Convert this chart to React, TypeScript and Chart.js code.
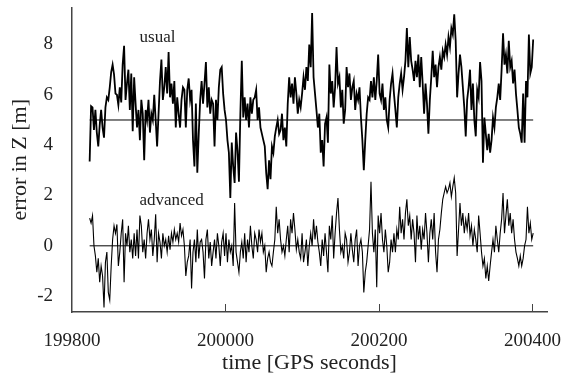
import React, { useEffect, useRef } from "react";
import { Chart, registerables } from "chart.js";

Chart.register(...registerables);

// first and last epoch of the plotted series (GPS seconds); samples evenly spaced between them
const T_FIRST = 199823;
const T_LAST = 200401;

const usual = [
  3.35, 5.55, 5.5, 4.6, 5.4, 4.5, 3.95, 4.8, 5.4, 4.7,
  4.3, 5.5, 5.9, 5.8, 6.3, 6.9, 7.2, 6.8, 6.05, 6.0,
  5.6, 6.3, 5.7, 7.2, 7.95, 5.8, 6.45, 7.0, 5.4, 6.85,
  4.55, 6.7, 5.65, 4.7, 5.4, 4.2, 5.8, 5.25, 3.4, 5.4,
  5.0, 5.8, 4.5, 5.25, 5.0, 6.0, 5.0, 3.95, 5.25, 6.55,
  7.4, 5.8, 6.3, 7.1, 6.05, 7.7, 5.9, 6.45, 5.65, 6.55,
  4.7, 5.9, 5.25, 4.7, 5.8, 6.3, 6.2, 4.7, 6.2, 6.65,
  5.8, 6.2, 4.2, 3.15, 5.65, 2.9, 4.45, 5.8, 6.55, 5.65,
  6.45, 7.3, 5.5, 6.3, 5.25, 5.8, 5.65, 3.95, 5.8, 5.0,
  6.3, 7.0, 7.1, 6.05, 5.4, 5.0, 4.2, 3.7, 1.9, 4.1,
  3.15, 2.5, 4.5, 3.8, 2.55, 5.25, 7.35, 5.1, 5.9, 5.0,
  5.65, 4.7, 5.9, 5.25, 5.8, 5.9, 6.2, 5.0, 5.5, 4.7,
  4.45, 4.2, 3.95, 2.9, 2.25, 3.4, 2.65, 3.95, 3.7, 4.35,
  4.7, 5.0, 4.45, 4.6, 5.25, 4.2, 4.7, 3.95, 5.65, 6.7,
  5.9, 6.45, 5.65, 6.7, 6.05, 5.25, 5.8, 5.5, 6.05, 6.7,
  6.2, 7.1, 6.55, 8.0, 7.1, 9.25, 6.7, 6.05, 5.4, 4.7,
  5.25, 3.7, 4.2, 3.15, 4.85, 5.1, 4.1, 7.2, 6.05, 6.55,
  5.5, 6.3, 7.9, 6.45, 6.7, 5.5, 6.2, 4.85, 5.4, 7.1,
  6.3, 6.85, 5.8, 6.3, 6.55, 5.4, 6.05, 5.8, 6.3, 5.1,
  4.2, 3.0, 4.2, 5.25, 5.9, 5.8, 6.55, 5.9, 6.7, 5.8,
  6.55, 7.6, 6.05, 5.8, 6.45, 5.4, 5.9, 5.0, 4.7, 5.8,
  6.45, 6.85, 6.05, 5.4, 4.7, 5.9, 6.45, 6.85, 6.2, 6.7,
  7.35, 8.65, 7.1, 8.3, 7.35, 7.0, 6.55, 7.35, 6.7, 7.6,
  6.3, 7.5, 6.45, 5.25, 6.45, 5.65, 4.45, 5.8, 6.7, 7.75,
  6.7, 7.2, 6.3, 7.1, 7.5, 7.0, 7.75, 7.5, 8.0, 7.6,
  8.3, 7.9, 8.65, 8.4, 9.2, 8.15, 5.9, 6.85, 7.6, 7.1,
  6.3, 5.5, 4.35, 5.8, 6.3, 7.0, 5.4, 6.45, 5.0, 4.35,
  6.2, 5.9, 7.3, 6.55, 3.3, 5.1, 4.45, 3.8, 4.45, 3.7,
  4.2, 5.1, 4.7, 5.5, 5.9, 6.45, 5.8, 7.0, 8.45, 7.2,
  7.6, 6.85, 8.15, 7.1, 7.35, 6.45, 7.0, 6.05, 5.4, 4.7,
  4.45, 4.1, 6.05, 4.1, 6.55, 5.9, 8.4, 6.85, 7.1, 8.2,
];

const advanced = [
  1.1, 0.9, 1.2, 0, -0.4, -1.05, -0.5, -1.45, -0.8, -1.2,
  -2.45, -0.65, -0.25, -1.85, -2.15, -0.8, 0.25, 0.8, 0.5, 0.85,
  -0.8, -0.25, 0.5, 1.05, -1.45, 0.5, 0, 0.8, -0.25, 0.25,
  -0.5, 0.5, -0.4, 0.65, -0.5, 1.2, 0.8, -0.25, 0.25, -0.5,
  0.5, 1.05, 0.25, 0.65, -0.4, 0.25, 1.25, -0.65, 0.5, 0.15,
  -0.5, 0.5, 0, 0.25, -0.25, 0.4, -0.15, 0.5, 0.15, 0.65,
  0.25, 0.5, 0.15, 0.9, 0.4, 0.65, 0, -1.2, -0.65, -0.4,
  0.25, -1.7, -0.25, 0.25, -0.65, 0.65, -0.5, 0.15, 0.25, -0.25,
  -1.3, 0.25, 0.65, -0.5, 0.15, -0.8, -0.25, 0.25, -0.5, 0.5,
  0, -0.8, 0.15, 0.5, -0.4, 0.5, -0.65, 0.25, -0.25, 0,
  -0.8, 1.7, -0.25, -0.65, -1.05, -0.25, 0.15, -0.5, 0.5, -0.65,
  0.25, -0.25, 0.8, 0, -0.5, 0.5, 0.25, -0.25, 0.65, 0.15,
  0.5, -0.25, 0, -1.05, -0.5, -0.25, -0.65, -0.8, -0.25, 0.25,
  1.55, 0.5, 1.05, 0.25, -0.25, 0, -0.4, 0.25, 0.8, -0.25,
  1.05, 0.5, 1.3, 0.65, -0.15, 0.25, -0.25, -0.5, 0.5, -0.65,
  -0.25, 0.25, -0.8, 0, 0.5, 0, 1.05, 0.25, 0.8, 0.15,
  -0.25, -0.8, 0.25, -0.4, 0.5, -0.25, -1.05, 0.8, 0.25, 1.2,
  -0.5, 0.5, 1.3, 1.9, 0.65, -0.25, 0, -0.5, 0.5, 0.25,
  -0.65, -0.25, 0.5, -0.15, -0.65, 0.25, 0.65, -0.8, 0, 0.25,
  -0.25, -1.85, -1.05, -0.65, 0, 0.65, 2.55, 0.5, -0.25, 0.65,
  -1.65, 1.2, 0.5, 1.3, 0.25, -0.25, 0.65, 0, -1.05, -0.65,
  0.25, -0.25, 0.5, -0.25, 0.65, 0.25, 1.55, 0.5, 1.05, 0.25,
  1.3, 1.85, 0.8, 1.2, 0.25, 1.05, 0.5, -0.65, 1.2, 0.25,
  0.8, -0.15, 0.65, 0.25, 1.3, 0.5, -0.65, 0.5, 1.05, 0.25,
  1.3, -0.25, -1.05, 0.25, 0.65, 1.3, 1.85, 2.1, 2.35, 2.1,
  2.25, 2.5, 1.95, 2.35, 2.7, 2.1, -0.4, 0.65, 1.7, 0.8,
  1.3, 0.5, 1.05, 0.65, 1.3, 0.4, 0.8, 0, 0.65, 0.25,
  -0.25, 1.2, 0.5, -0.25, -0.8, -0.5, -1.3, -0.8, -1.4, -0.8,
  -0.25, 0.25, -0.25, 0.8, 0.25, -0.25, 0.5, 1.05, 2.1, 0.5,
  1.2, 1.85, 0.8, 1.3, 0.5, 1.05, 0.25, -0.25, -0.5, -0.8,
  -0.4, -0.8, -0.5, 0, 0.25, 1.55, 0.5, 0.9, 0.25, 0.5,
];

const REF_USUAL = 5;
const REF_ADVANCED = 0;

const X_TICKS = [199800, 200000, 200200, 200400];
const Y_TICKS = [-2, 0, 2, 4, 6, 8];
const X_MIN = 199800;
const X_MAX = 200419;
const Y_MIN = -2.63;
const Y_MAX = 9.47;

const SERIES_LABELS = ["usual", "advanced"];
const LABEL_X = [199888, 199888];
const LABEL_Y = [8.27, 1.8];

const FONT = "'Liberation Serif', 'Times New Roman', serif";
const AXIS_COLOR = "#444";

function toPoints(values: number[]) {
  const n = values.length;
  return values.map((v, i) => ({
    x: T_FIRST + (i * (T_LAST - T_FIRST)) / (n - 1),
    y: v,
  }));
}

const decorPlugin = {
  id: "decor",
  afterDraw(chart: any) {
    const { ctx, scales } = chart;
    const xs = scales.x;
    const ys = scales.y;
    ctx.save();
    ctx.strokeStyle = AXIS_COLOR;
    ctx.lineWidth = 1;
    const bottom = ys.getPixelForValue(Y_MIN);
    X_TICKS.forEach((t) => {
      if (t === X_MIN) return;
      const px = Math.round(xs.getPixelForValue(t)) + 0.5;
      ctx.beginPath();
      ctx.moveTo(px, bottom);
      ctx.lineTo(px, bottom - 8);
      ctx.stroke();
    });
    ctx.fillStyle = "#222";
    ctx.font = `17px ${FONT}`;
    ctx.textAlign = "left";
    ctx.textBaseline = "middle";
    SERIES_LABELS.forEach((s, i) => {
      ctx.fillText(s, xs.getPixelForValue(LABEL_X[i]), ys.getPixelForValue(LABEL_Y[i]));
    });
    ctx.restore();
  },
};

export default function App() {
  const ref = useRef<HTMLCanvasElement | null>(null);

  useEffect(() => {
    if (!ref.current) return;
    const chart = new Chart(ref.current, {
      type: "line",
      data: {
        datasets: [
          {
            data: [
              { x: T_FIRST, y: REF_USUAL },
              { x: T_LAST, y: REF_USUAL },
            ],
            borderColor: "#000",
            borderWidth: 1,
            pointRadius: 0,
          },
          {
            data: [
              { x: T_FIRST, y: REF_ADVANCED },
              { x: T_LAST, y: REF_ADVANCED },
            ],
            borderColor: "#000",
            borderWidth: 1,
            pointRadius: 0,
          },
          {
            data: toPoints(usual),
            borderColor: "#000",
            borderWidth: 1.8,
            pointRadius: 0,
            tension: 0,
          },
          {
            data: toPoints(advanced),
            borderColor: "#000",
            borderWidth: 1.1,
            pointRadius: 0,
            tension: 0,
          },
        ],
      },
      options: {
        animation: false,
        responsive: false,
        devicePixelRatio: 1,
        layout: { padding: { left: 7, right: 17, top: 7.5, bottom: 3 } },
        plugins: {
          legend: { display: false },
          tooltip: { enabled: false },
        },
        scales: {
          x: {
            type: "linear",
            min: X_MIN,
            max: X_MAX,
            afterBuildTicks: (s: any) => {
              s.ticks = X_TICKS.map((v) => ({ value: v }));
            },
            afterFit: (s: any) => {
              s.height = 64;
              s.paddingLeft = 0;
              s.paddingRight = 0;
            },
            ticks: {
              color: "#222",
              font: { family: FONT, size: 19 },
              padding: 18,
              maxRotation: 0,
              autoSkip: false,
              callback: (v: any) => String(v),
            },
            grid: { display: false, drawTicks: false },
            border: { display: true, color: AXIS_COLOR, width: 1.5 },
            title: {
              display: true,
              text: "time [GPS seconds]",
              color: "#222",
              font: { family: FONT, size: 22 },
              padding: 0,
            },
          },
          y: {
            type: "linear",
            min: Y_MIN,
            max: Y_MAX,
            afterBuildTicks: (s: any) => {
              s.ticks = Y_TICKS.map((v) => ({ value: v }));
            },
            afterFit: (s: any) => {
              s.width = 65;
              s.paddingTop = 0;
              s.paddingBottom = 0;
            },
            ticks: {
              color: "#222",
              font: { family: FONT, size: 19 },
              padding: 19,
              callback: (v: any) => String(v),
            },
            grid: { display: false, drawTicks: false },
            border: { display: true, color: AXIS_COLOR, width: 1.5 },
            title: {
              display: true,
              text: "error in Z [m]",
              color: "#222",
              font: { family: FONT, size: 22 },
              padding: 0,
            },
          },
        },
      },
      plugins: [decorPlugin],
    });
    return () => chart.destroy();
  }, []);

  return (
    <div style={{ position: "fixed", left: 0, top: 0, width: 564, height: 379, background: "#fff" }}>
      <canvas ref={ref} width={564} height={379} />
    </div>
  );
}
